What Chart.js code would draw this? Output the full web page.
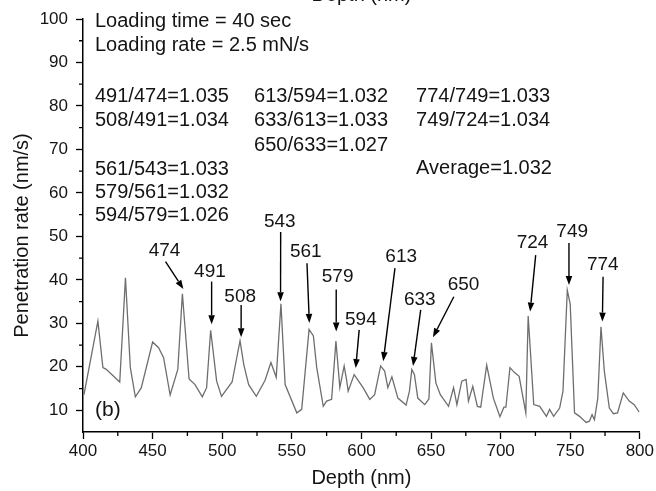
<!DOCTYPE html>
<html>
<head>
<meta charset="utf-8">
<script src="https://cdn.jsdelivr.net/npm/chart.js@4.4.1/dist/chart.umd.min.js"></script>
<style>
  html, body { margin: 0; padding: 0; background: #fff; }
</style>
</head>
<body>
<canvas id="grafico" width="656" height="491"></canvas>
<script>
/* ================= DADOS ================= */
const depth = [400.7, 410.7, 414.3, 416.7, 426.4, 430.5, 434, 437.6, 441.9, 450, 454.3, 457.9, 462.6, 468.1,
  471.4, 476.2, 480.5, 485.7, 488.8, 491.7, 496, 499.5, 507.1, 512.8, 515.5, 519, 524.5, 530.8, 535, 538.8,
  542.2, 545.2, 553.6, 557.1, 562.4, 565.5, 567.9, 572.6, 575, 578.6, 581.7, 584.5, 587.6, 589.3, 590.5,
  594.8, 601.2, 606, 609.5, 613.8, 616.7, 619, 621.9, 626.2, 632.1, 634.5, 636.2, 638.1, 640.5, 645.5,
  648.5, 650.3, 653.5, 656.7, 662.6, 666.2, 668.6, 672.1, 675.2, 676.9, 680, 683.3, 685.7, 690, 694.8,
  699.5, 702.4, 703.8, 706.7, 710.2, 713.3, 718.1, 719.8, 723.8, 728.1, 732.9, 735.2, 738.1, 742.4, 744.8,
  747.9, 750, 753.1, 756.7, 761.4, 763.8, 765.7, 767.4, 769.8, 772.1, 774.5, 778.1, 781, 784, 788.1,
  792.4, 796, 799.5];

const rate = [13.6, 30.5, 19.8, 19.4, 16.5, 40.5, 19.8, 13.1, 15.2, 25.7, 24.4, 22.1, 13.5, 19.4,
  36.8, 17.2, 15.9, 13.1, 15.2, 28.4, 16.7, 13.2, 16.5, 26, 20.5, 15.9, 13.2, 16.9, 21, 17.6,
  34.5, 15.9, 9.4, 10.2, 28.6, 27.1, 19.8, 10.9, 12.1, 12.5, 25.9, 15.2, 20.2, 17.1, 14.4,
  18.2, 15.2, 12.5, 13.6, 20.2, 19, 15.2, 17.7, 12.8, 11.2, 14.4, 19.4, 18.2, 12.8, 11.3,
  12.6, 25.5, 16.3, 13.6, 10.9, 15.2, 11.3, 16.7, 17.1, 12.1, 15.5, 10.9, 10.7, 20.4, 12.8,
  8.5, 10.7, 10.7, 19.8, 18.6, 17.8, 9.4, 31.7, 11.3, 10.9, 8.6, 10.2, 8.6, 10.5, 14.4,
  37.6, 34.4, 9.4, 8.6, 7.2, 7.5, 9, 7.8, 12.8, 29.2, 19, 10.5, 9.2, 9.4, 14,
  12.1, 11.3, 9.6];

const xTicks = [400, 450, 500, 550, 600, 650, 700, 750, 800];
const yTicks = [10, 20, 30, 40, 50, 60, 70, 80, 90, 100];
const xMinor = [425, 475, 525, 575, 625, 675, 725, 775];
const yMinor = [15, 25, 35, 45, 55, 65, 75, 85, 95];

/* ================= ANOTAÇÕES (em unidades do gráfico) ================= */
const peakNames = ["474", "491", "508", "543", "561", "579", "594", "613", "633", "650", "724", "749", "774"];
const peakTextPos = [[458.6, 46.6], [491.2, 41.9], [512.9, 36.1], [541.4, 53.3], [560, 46.4], [582.9, 40.7],
  [599.6, 30.8], [628.6, 45.3], [641.9, 35.4], [673.4, 38.8], [722.9, 48.5], [751.4, 51], [773.4, 43.4]];
const arrowTail = [[459.3, 44.2], [492.4, 39.6], [513.6, 34.2], [542, 51], [560.9, 43.8], [581.9, 37.8],
  [598.4, 28.5], [624.1, 42.7], [642.6, 33.1], [666.4, 36.1], [725.2, 45.7], [749.1, 48.5], [773.6, 40.7]];
const arrowTip = [[472.1, 37.9], [492.4, 29.8], [513.6, 26.8], [541.9, 35.1], [562.6, 30.1], [581.9, 28.1],
  [595.9, 19.7], [615.7, 21.3], [637.1, 20.2], [651.4, 26.8], [721.2, 32.7], [749.1, 38.8], [773.1, 30.4]];

const notesText = ["Loading time = 40 sec", "Loading rate = 2.5 mN/s",
  "491/474=1.035", "508/491=1.034", "561/543=1.033", "579/561=1.032", "594/579=1.026",
  "613/594=1.032", "633/613=1.033", "650/633=1.027",
  "774/749=1.033", "749/724=1.034", "Average=1.032"];
const notesPos = [[408.6, 99.4], [408.6, 94.0],
  [408.6, 82.1], [408.6, 76.6], [408.6, 65.3], [408.6, 60.0], [408.6, 54.7],
  [522.9, 82.1], [522.9, 76.6], [522.9, 71.0],
  [639.3, 82.1], [639.3, 76.6], [639.3, 65.7]];
const panelTag = "(b)";
const panelTagPos = [417.9, 10.1];
const yTitle = "Penetration rate (nm/s)";

const corTexto = "#141414";
const fonte = "Arial, 'Liberation Sans', sans-serif";

/* ================= PLUGIN DE DESENHO ================= */
const anotacoes = {
  id: "anotacoes",
  afterDraw(chart) {
    const ctx = chart.ctx;
    const xs = chart.scales.x;
    const ys = chart.scales.y;
    const area = chart.chartArea;
    const px = v => xs.getPixelForValue(v);
    const py = v => ys.getPixelForValue(v);

    ctx.save();

    // minor ticks
    ctx.strokeStyle = "#000";
    ctx.lineWidth = 1.3;
    ctx.beginPath();
    xMinor.forEach(v => {
      ctx.moveTo(px(v), area.bottom);
      ctx.lineTo(px(v), area.bottom + 4);
    });
    yMinor.forEach(v => {
      ctx.moveTo(area.left, py(v));
      ctx.lineTo(area.left - 4, py(v));
    });
    ctx.stroke();

    // setas
    ctx.fillStyle = "#000";
    ctx.lineWidth = 1.4;
    arrowTail.forEach((t, i) => {
      const x1 = px(t[0]), y1 = py(t[1]);
      const x2 = px(arrowTip[i][0]), y2 = py(arrowTip[i][1]);
      const ang = Math.atan2(y2 - y1, x2 - x1);
      const len = 9, half = 3.3;
      const bx = x2 - len * Math.cos(ang), by = y2 - len * Math.sin(ang);
      ctx.beginPath();
      ctx.moveTo(x1, y1);
      ctx.lineTo(bx, by);
      ctx.stroke();
      ctx.beginPath();
      ctx.moveTo(x2, y2);
      ctx.lineTo(bx + half * Math.sin(ang), by - half * Math.cos(ang));
      ctx.lineTo(bx - half * Math.sin(ang), by + half * Math.cos(ang));
      ctx.closePath();
      ctx.fill();
    });

    // textos
    ctx.fillStyle = corTexto;
    ctx.textBaseline = "middle";
    ctx.textAlign = "center";
    ctx.font = "19px " + fonte;
    peakNames.forEach((n, i) => {
      ctx.fillText(n, px(peakTextPos[i][0]), py(peakTextPos[i][1]));
    });

    ctx.font = "21px " + fonte;
    ctx.fillText(panelTag, px(panelTagPos[0]), py(panelTagPos[1]));

    ctx.textAlign = "left";
    ctx.font = "20px " + fonte;
    notesText.forEach((s, i) => {
      ctx.fillText(s, px(notesPos[i][0]), py(notesPos[i][1]));
    });

    // título do eixo y
    ctx.save();
    ctx.translate(22, (area.top + area.bottom) / 2 + 10);
    ctx.rotate(-Math.PI / 2);
    ctx.textAlign = "center";
    ctx.fillText(yTitle, 0, 0);
    ctx.restore();

    // título cortado do painel de cima
    ctx.textAlign = "center";
    ctx.textBaseline = "alphabetic";
    ctx.fillText("Depth (nm)", px(600), 1);

    ctx.restore();
  }
};

/* ================= GRÁFICO ================= */
const pontos = depth.map((d, i) => ({ x: d, y: rate[i] }));

new Chart(document.getElementById("grafico"), {
  type: "line",
  data: {
    datasets: [{
      data: pontos,
      borderColor: "#6e6e6e",
      borderWidth: 1.3,
      pointRadius: 0,
      tension: 0,
      fill: false
    }]
  },
  options: {
    responsive: false,
    animation: false,
    devicePixelRatio: 1,
    layout: { padding: { top: 19, right: 13, left: 0, bottom: 0 } },
    plugins: { legend: { display: false }, tooltip: { enabled: false } },
    scales: {
      x: {
        type: "linear",
        min: 400,
        max: 800,
        afterBuildTicks: s => { s.ticks = xTicks.map(v => ({ value: v })); },
        afterFit: s => { s.height = 59; },
        ticks: {
          font: { size: 17, family: fonte },
          color: corTexto,
          padding: 2,
          maxRotation: 0,
          autoSkip: false
        },
        grid: { drawOnChartArea: false, drawTicks: true, tickLength: 7, tickColor: "#000", tickWidth: 1.3 },
        border: { display: true, color: "#000", width: 1.5 },
        title: {
          display: true,
          text: "Depth (nm)",
          font: { size: 20, family: fonte },
          color: corTexto,
          padding: { top: 0, bottom: 1 }
        }
      },
      y: {
        min: 5,
        max: 100,
        afterBuildTicks: s => { s.ticks = yTicks.map(v => ({ value: v })); },
        afterFit: s => { s.width = 83; },
        ticks: {
          font: { size: 17, family: fonte },
          color: corTexto,
          padding: 8
        },
        grid: { drawOnChartArea: false, drawTicks: true, tickLength: 7, tickColor: "#000", tickWidth: 1.3 },
        border: { display: true, color: "#000", width: 1.5 }
      }
    }
  },
  plugins: [anotacoes]
});
</script>
</body>
</html>
